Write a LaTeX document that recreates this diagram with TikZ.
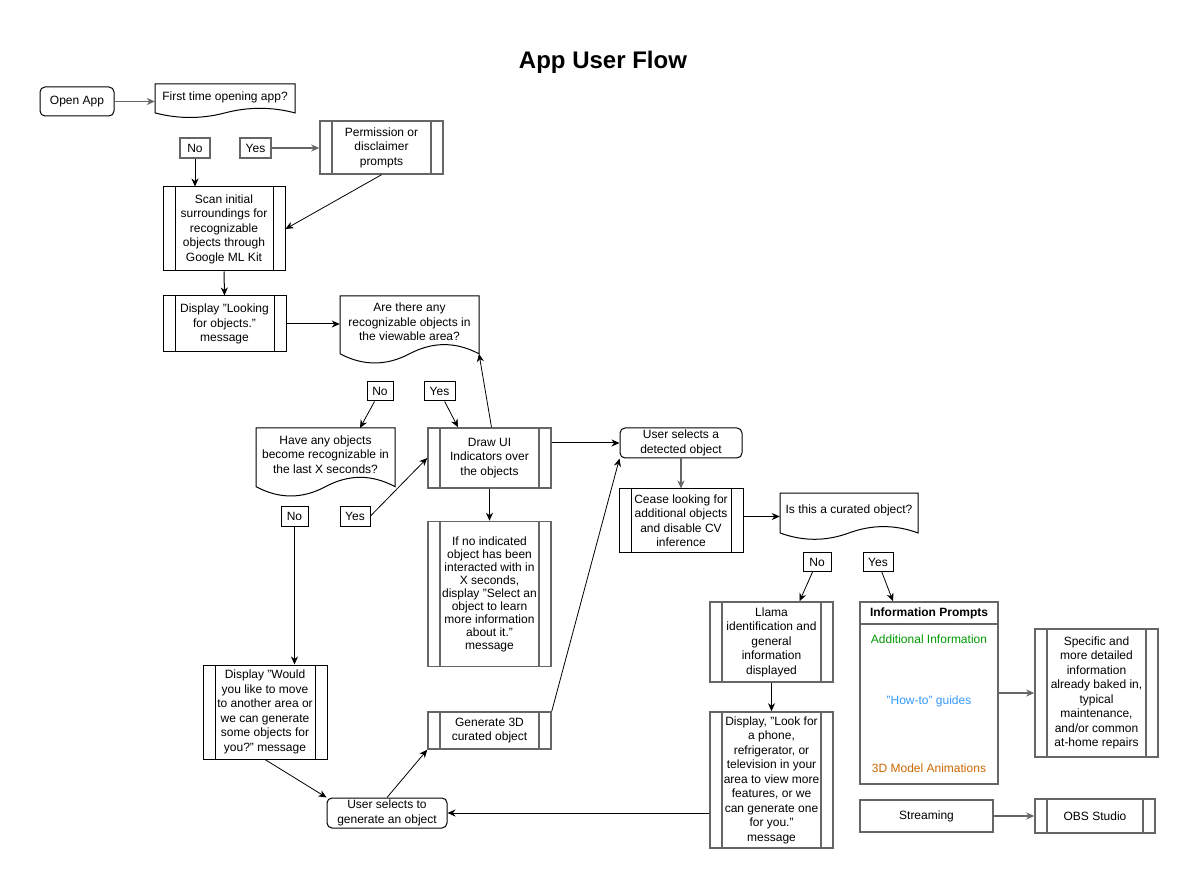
\documentclass[tikz,border=0pt]{standalone}
\usepackage{fontspec}
\setmainfont{Liberation Sans}
\usetikzlibrary{calc}
\usetikzlibrary{arrows,arrows.meta}

\definecolor{gry}{RGB}{102,102,102}
\definecolor{infogreen}{RGB}{0,153,0}
\definecolor{infoblue}{RGB}{51,153,255}
\definecolor{infoorange}{RGB}{204,102,0}

\tikzset{
  txt/.style={font=\fontsize{12}{14.5}\selectfont, align=center, inner sep=0pt},
  bbox/.style={txt, draw=black, line width=1pt},
  gbox/.style={txt, draw=gry, line width=1.5pt},
  rbox/.style={bbox, rounded corners=5pt},
  bars/.style={path picture={
    \draw[#1] ([xshift=12]path picture bounding box.north west) -- ([xshift=12]path picture bounding box.south west)
              ([xshift=-12]path picture bounding box.north east) -- ([xshift=-12]path picture bounding box.south east);}},
  bproc/.style={bbox, bars={black, line width=1pt}},
  gproc/.style={gbox, bars={gry, line width=1.5pt}},
  line/.style={draw=black, line width=1pt, -{Stealth[length=8pt,width=7pt,inset=2.5pt]}},
  gline/.style={draw=gry, line width=1.5pt, -{Stealth[length=8pt,width=7pt,inset=2.5pt]}},
}

% document shape: name, x, y, w, h, text
\newcommand{\docnode}[6]{%
  \node[txt, minimum width=#4] (#1) at ({#2+#4/2},{#3+0.38*#5}) {#6};
  \draw[line width=1pt] (#2,{#3+0.85*#5}) -- (#2,#3) -- ({#2+#4},#3) -- ({#2+#4},{#3+0.85*#5})
    .. controls ({#2+0.8333*#4},{#3+0.67*#5}) and ({#2+0.6667*#4},{#3+0.67*#5}) .. ({#2+0.5*#4},{#3+0.85*#5})
    .. controls ({#2+0.3333*#4},{#3+1.03*#5}) and ({#2+0.1667*#4},{#3+1.03*#5}) .. cycle;
  \coordinate (#1-nw) at (#2,#3);
  \coordinate (#1-ne) at ({#2+#4},#3);
  \coordinate (#1-br) at ({#2+#4},{#3+0.85*#5});
}

\begin{document}
\begin{tikzpicture}[x=1pt, y=-1pt]
\useasboundingbox (0,0) rectangle (1200,890);

\node[txt, font=\fontsize{24}{28}\selectfont\bfseries] (title) at (603,62) {App User Flow};

% start
\node[rbox, minimum width=74, minimum height=29] (open) at (77,101.5) {Open App};
\docnode{first}{155}{84}{140}{34}{First time opening app?}
\node[gbox, minimum width=30, minimum height=20] (no1) at (195,148) {No};
\node[gbox, minimum width=31, minimum height=20] (yes1) at (255.5,148) {Yes};
\node[gproc, minimum width=123, minimum height=53] (perm) at (381.5,147.5) {Permission or\\disclaimer\\prompts};
\node[bproc, minimum width=122, minimum height=84] (scan) at (224,229) {Scan initial\\surroundings for\\recognizable\\objects through\\Google ML Kit};
\node[bproc, minimum width=123, minimum height=56] (look) at (224.5,324) {Display "Looking\\for objects."\\message};
\docnode{ask}{340}{296}{139}{68}{Are there any\\recognizable objects in\\the viewable area?}

% detection loop
\node[bbox, minimum width=26, minimum height=19] (no2) at (380,391.5) {No};
\node[bbox, minimum width=31, minimum height=19] (yes2) at (439.5,391.5) {Yes};
\docnode{have}{256}{428}{139}{69}{Have any objects\\become recognizable in\\the last X seconds?}
\node[gproc, minimum width=123, minimum height=60] (draw) at (489.5,458) {Draw UI\\Indicators over\\the objects};
\node[gproc, minimum width=123, minimum height=145, font=\fontsize{12}{13}\selectfont] (idle) at (489.5,594) {If no indicated\\object has been\\interacted with in\\X seconds,\\display "Select an\\object to learn\\more information\\about it."\\message};
\node[bbox, minimum width=27, minimum height=20] (no3) at (294.5,516) {No};
\node[bbox, minimum width=30, minimum height=20] (yes3) at (355,516) {Yes};
\node[bproc, minimum width=124, minimum height=94] (would) at (265,712) {Display "Would\\you like to move\\to another area or\\we can generate\\some objects for\\you?" message};
\node[rbox, minimum width=120, minimum height=30] (gensel) at (387,813) {User selects to\\generate an object};
\node[gproc, minimum width=123, minimum height=37] (gen3d) at (489.5,730.5) {Generate 3D\\curated object};

% selected object
\node[rbox, minimum width=122, minimum height=30] (sel) at (681,443) {User selects a\\detected object};
\node[bproc, minimum width=124, minimum height=63] (cease) at (681,520.5) {Cease looking for\\additional objects\\and disable CV\\inference};
\docnode{curated}{780}{493}{138}{47}{Is this a curated object?}
\node[bbox, minimum width=28, minimum height=19] (no4) at (817,562) {No};
\node[bbox, minimum width=30, minimum height=19] (yes4) at (878,562) {Yes};
\node[gproc, minimum width=123, minimum height=80] (llama) at (771.5,642) {Llama\\identification and\\general\\information\\displayed};
\node[gproc, minimum width=123, minimum height=136] (lookfor) at (771.5,780) {Display, "Look for\\a phone,\\refrigerator, or\\television in your\\area to view more\\features, or we\\can generate one\\for you."\\message};

% information prompts
\node[gbox, minimum width=138, minimum height=182] (info) at (929,693) {};
\node[txt, minimum width=138, minimum height=22, font=\fontsize{12}{14.5}\selectfont\bfseries] (infohead) at (929,613) {Information Prompts};
\draw[draw=gry, line width=1.5pt] (infohead.south west) -- (infohead.south east);
\node[txt, text=infogreen] (addinfo) at (929,639) {Additional Information};
\node[txt, text=infoblue] (howto) at (929,701) {"How-to" guides};
\node[txt, text=infoorange] (anim) at (929,768) {3D Model Animations};
\node[gproc, minimum width=123, minimum height=128] (specific) at (1096.5,693) {Specific and\\more detailed\\information\\already baked in,\\typical\\maintenance,\\and/or common\\at-home repairs};
\node[gbox, minimum width=133, minimum height=32] (stream) at (926.5,816) {Streaming};
\node[gproc, minimum width=120, minimum height=34] (obs) at (1095,816) {OBS Studio};

% connectors
\draw[gline] (open.east) -- (open.east -| first.west);
\draw[gline] (yes1.east) -- (yes1.east -| perm.west);
\draw[line] (no1.south) -- (no1.south |- scan.north);
\draw[line, line width=0.8pt] (perm.south) -- (scan.east);
\draw[line] (scan.south) -- (look.north);
\draw[line] (look.east) -- (look.east -| ask.west);
\draw[line, line width=0.8pt] (no2) -- ([xshift=-35]have-ne);
\draw[line, line width=0.8pt] (yes2) -- ([xshift=-31.5]draw.north);
\draw[line, line width=0.8pt] ([xshift=2]draw.north) -- (ask-br);
\draw[line] ([yshift=15]draw.east) -- (sel.west);
\draw[line] (draw.south) -- (idle.north);
\draw[line, line width=0.8pt] (yes3.east) -- (draw.west);
\draw[line] (no3.south) -- (no3.south |- would.north);
\draw[line, line width=0.8pt] (would.south) -- (gensel.north west);
\draw[line, line width=0.8pt] (gensel.north) -- (gen3d.south west);
\draw[line, line width=0.8pt] (gen3d.north east) -- (sel.south west);
\draw[gline] (sel.south) -- (cease.north);
\draw[line] ([yshift=4]cease.east) -- ([yshift=4]cease.east -| curated.west);
\draw[line, line width=0.8pt] (no4) -- ([xshift=28]llama.north);
\draw[line, line width=0.8pt] (yes4) -- ([xshift=-36]info.north);
\draw[line] (llama.south) -- (lookfor.north);
\draw[line] (gensel.east -| lookfor.west) -- (gensel.east);
\draw[gline] (info.east) -- (specific.west);
\draw[gline] (stream.east) -- (obs.west);
\end{tikzpicture}
\end{document}
